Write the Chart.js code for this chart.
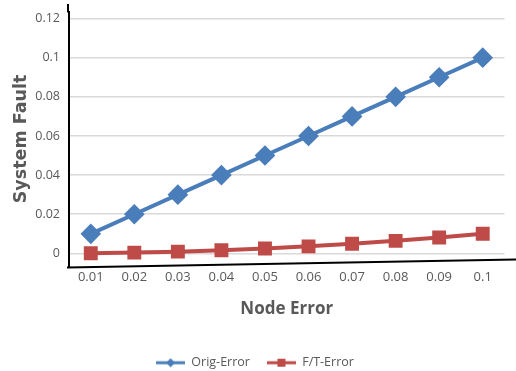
<!DOCTYPE html>
<html>
<head>
<meta charset="utf-8">
<script src="https://cdn.jsdelivr.net/npm/chart.js@4.4.1/dist/chart.umd.min.js"></script>
<style>
    html, body { margin: 0; padding: 0; background: #fff; }
    #wrap { width: 516px; height: 371px; }
</style>
</head>
<body>
<div id="wrap"><canvas id="chart"></canvas></div>
<script>
const nodeError = ['0.01', '0.02', '0.03', '0.04', '0.05', '0.06', '0.07', '0.08', '0.09', '0.1'];
const origError = [0.01, 0.02, 0.03, 0.04, 0.05, 0.06, 0.07, 0.08, 0.09, 0.1];
const ftError = [0.0001, 0.0004, 0.0009, 0.0016, 0.0025, 0.0036, 0.0049, 0.0064, 0.0081, 0.01];
const yTicks = [0, 0.02, 0.04, 0.06, 0.08, 0.1, 0.12];

const BLUE = '#4a7ebb';
const RED = '#be4b48';
const GREY = '#595959';

// legend icon: short line with the marker in the middle
function legendIcon(color, shape) {
    let c = document.createElement('canvas');
    c.width = 29; c.height = 10;
    let g = c.getContext('2d');
    g.strokeStyle = color;
    g.lineWidth = 3;
    g.beginPath();
    g.moveTo(0, 5);
    g.lineTo(29, 5);
    g.stroke();
    g.fillStyle = color;
    if (shape == 'diamond') {
        g.beginPath();
        g.moveTo(14.5, 0.5); g.lineTo(19, 5); g.lineTo(14.5, 9.5); g.lineTo(10, 5);
        g.closePath();
        g.fill();
    } else {
        g.fillRect(10.5, 1, 8, 8);
    }
    return c;
}

// black frame lines like the original: left axis up to the top, slanted base line
const frameLines = {
    id: 'frameLines',
    afterDraw(chart) {
        let a = chart.chartArea;
        let ctx = chart.ctx;
        ctx.save();
        ctx.strokeStyle = '#000';
        ctx.lineWidth = 2;
        ctx.beginPath();
        ctx.moveTo(a.left - 1, a.top + 1);
        ctx.lineTo(a.left - 1, 4);
        ctx.stroke();
        ctx.beginPath();
        ctx.moveTo(a.left - 2, a.bottom + 1);
        ctx.lineTo(chart.width, a.bottom - 7);
        ctx.stroke();
        ctx.restore();
    }
};

new Chart(document.getElementById('chart'), {
    type: 'line',
    data: {
        labels: nodeError,
        datasets: [{
            label: 'Orig-Error',
            data: origError,
            borderColor: BLUE,
            backgroundColor: BLUE,
            borderWidth: 4,
            pointStyle: 'rectRot',
            pointRadius: 7.5,
            pointHoverRadius: 7.5,
            tension: 0
        }, {
            label: 'F/T-Error',
            data: ftError,
            borderColor: RED,
            backgroundColor: RED,
            borderWidth: 4,
            pointStyle: 'rect',
            pointRadius: 7,
            pointHoverRadius: 7,
            tension: 0
        }]
    },
    options: {
        responsive: true,
        maintainAspectRatio: false,
        animation: false,
        layout: { padding: { top: 0, right: 6, bottom: -8, left: 0 } },
        plugins: {
            tooltip: { enabled: false },
            legend: {
                position: 'bottom',
                labels: {
                    usePointStyle: true,
                    pointStyleWidth: 29,
                    color: GREY,
                    font: { family: 'Open Sans', size: 12.5 },
                    padding: 17,
                    generateLabels(chart) {
                        let items = Chart.defaults.plugins.legend.labels.generateLabels(chart);
                        items[0].pointStyle = legendIcon(BLUE, 'diamond');
                        if (items[1]) items[1].pointStyle = legendIcon(RED, 'square');
                        return items;
                    }
                }
            }
        },
        scales: {
            x: {
                offset: true,
                grid: { display: false, drawTicks: false },
                border: { display: false },
                ticks: {
                    color: GREY,
                    font: { family: 'Open Sans', size: 13 },
                    padding: 3,
                    maxRotation: 0
                },
                title: {
                    display: true,
                    text: 'Node Error',
                    color: GREY,
                    font: { family: 'Open Sans', size: 17, weight: 'bold' },
                    padding: { top: 8, bottom: 20 }
                },
                afterFit(scale) { scale.height = 73; }
            },
            y: {
                min: -0.0067,
                max: 0.1236,
                afterBuildTicks(scale) {
                    scale.ticks = yTicks.map(v => ({ value: v }));
                },
                grid: { color: '#d9d9d9', lineWidth: 1.5, drawTicks: false },
                border: { color: '#000', width: 2 },
                ticks: {
                    color: GREY,
                    font: { family: 'Open Sans', size: 12.5 },
                    padding: 9,
                    callback: v => String(Math.round(v * 100) / 100)
                },
                title: {
                    display: true,
                    text: 'System Fault',
                    color: GREY,
                    font: { family: 'DejaVu Sans', size: 17.5, weight: 'bold' },
                    padding: { top: 11, bottom: 2 }
                },
                afterFit(scale) {
                    scale.width = 69;
                    scale.paddingTop = 0;
                }
            }
        }
    },
    plugins: [frameLines]
});
</script>
</body>
</html>
